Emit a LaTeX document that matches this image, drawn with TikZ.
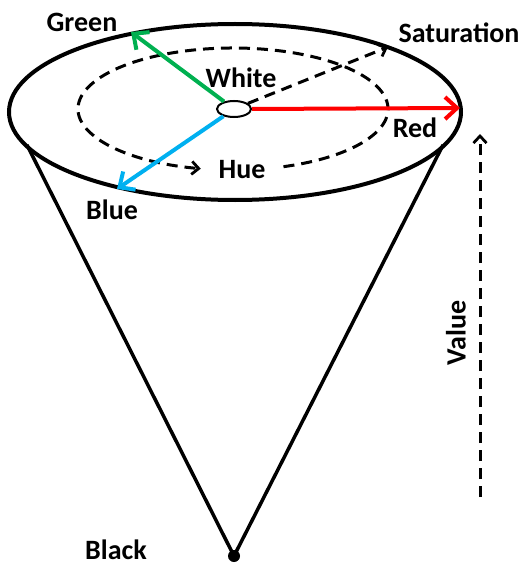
\documentclass[tikz,border=0pt]{standalone}
\usepackage{fontspec}
\setmainfont{Carlito}
\usetikzlibrary{arrows.meta,shapes.geometric}
\definecolor{offgreen}{RGB}{0,176,80}
\definecolor{offblue}{RGB}{0,176,240}
\definecolor{offred}{RGB}{255,0,0}
\begin{document}
\begin{tikzpicture}[x=1pt,y=1pt,
  lbl/.style={font=\fontsize{28}{32}\selectfont\bfseries, inner sep=0pt},
  thick arrow/.style={line width=4pt, -{Straight Barb[length=12pt,width=22pt,line width=4pt]}},
  dash arrow/.style={line width=3pt, dash pattern=on 11pt off 7pt, -{Straight Barb[length=7pt,width=13pt,line width=2.8pt]}},
  outline/.style={line width=4pt}
]
\useasboundingbox (0,0) rectangle (524,-567);
% cone sides
\coordinate (apex) at (234,-556);
\coordinate (tl) at (27,-145);
\coordinate (tr) at (443,-145);
\draw[line width=3.5pt] (tl) -- (apex) -- (tr);
\fill (apex) circle (6);
% top ellipse
\node[outline, draw, ellipse, minimum width=452, minimum height=176, inner sep=0pt] (E) at (235,-112) {};
% hue dashed arc
\draw[dash arrow] (233,-109) ++({155*cos(-71)},{61*sin(-71)}) coordinate (hs)
  arc[start angle=-71, end angle=258, x radius=155, y radius=61] coordinate (he);
% center white ellipse
\node[draw, ellipse, line width=2pt, fill=white, minimum width=34, minimum height=16, inner sep=0pt] (W) at (234,-109) {};
% arrow ends
\coordinate (g) at (131,-32);
\coordinate (b) at (117,-189);
\coordinate (r) at (460,-108);
\coordinate (s) at (388,-47);
\coordinate (v0) at (480,-497);
\coordinate (v1) at (480,-134);
\draw[thick arrow, offgreen] (W) -- (g);
\draw[thick arrow, offblue] (W) -- (b);
\draw[thick arrow, offred] (W.east) -- (r);
\draw[dash arrow] (W) -- (s);
\draw[dash arrow] (v0) -- (v1);
% labels
\node[lbl] (lgreen) at (82,-22) {Green};
\node[lbl] (lsat) at (459,-33) {Saturation};
\node[lbl] (lwhite) at (241,-78) {White};
\node[lbl] (lred) at (415,-128) {Red};
\node[lbl] (lhue) at (242,-170) {Hue};
\node[lbl] (lblue) at (112,-210) {Blue};
\node[lbl] (lblack) at (116,-550) {Black};
\node[lbl, rotate=90] (lval) at (456,-333) {Value};
\end{tikzpicture}
\end{document}
